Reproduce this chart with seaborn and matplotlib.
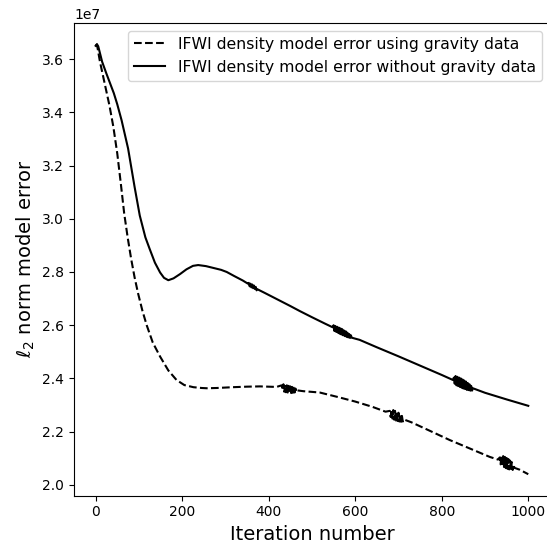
import matplotlib
matplotlib.use('Agg')
import matplotlib.pyplot as plt
import pandas as pd
import seaborn as sns

# values, errors in units of 1e7
with_grav_iter = [0, 3, 10, 22, 32, 41, 50, 58, 66, 74, 82, 90, 98, 108, 118, 132, 149, 168, 187,
                  205, 226, 245, 257, 280, 317, 350, 380, 418,
                  430, 432, 434, 436, 438, 440, 442, 444, 446, 448, 450, 452, 454, 456, 458, 460, 462, 464, 466,
                  480, 518, 560, 600, 640, 670,
                  680, 682, 684, 686, 688, 690, 692, 694, 696, 698, 700, 702, 704, 706, 708, 710, 712,
                  730, 770, 819, 860, 911, 930,
                  934, 936, 938, 940, 942, 944, 946, 948, 950, 952, 954, 956, 958, 960, 962, 964, 966, 968,
                  980, 1000]
with_grav_err = [3.650, 3.655, 3.590, 3.500, 3.425, 3.345, 3.245, 3.135, 3.020, 2.930, 2.850, 2.780, 2.720,
                 2.655, 2.600, 2.535, 2.482, 2.430, 2.394,
                 2.375, 2.367, 2.364, 2.363, 2.364, 2.367, 2.369, 2.370, 2.368,
                 2.374, 2.356, 2.378, 2.350, 2.376, 2.348, 2.374, 2.347, 2.372, 2.346, 2.370, 2.345, 2.368, 2.346,
                 2.365, 2.347, 2.362, 2.349, 2.355,
                 2.352, 2.347, 2.330, 2.313, 2.293, 2.275,
                 2.278, 2.255, 2.283, 2.249, 2.281, 2.245, 2.278, 2.242, 2.275, 2.240, 2.271, 2.238, 2.266, 2.237,
                 2.259, 2.238, 2.246,
                 2.235, 2.205, 2.168, 2.140, 2.105, 2.095,
                 2.103, 2.077, 2.111, 2.071, 2.108, 2.067, 2.105, 2.063, 2.101, 2.060, 2.097, 2.058, 2.091, 2.057,
                 2.085, 2.056, 2.076, 2.064,
                 2.057, 2.040]

no_grav_iter = [0, 3, 6, 15, 25, 35, 42, 50, 60, 75, 90, 102, 115, 125, 137, 149, 158, 168, 180, 195,
                210, 225, 237, 255, 275, 290, 303, 320, 340, 352,
                354, 356, 358, 360, 362, 364, 366, 368, 370, 372, 374,
                390, 420, 450, 472, 500, 530, 548,
                550, 552, 554, 556, 558, 560, 562, 564, 566, 568, 570, 572, 574, 576, 578, 580, 582, 584, 586, 588,
                590, 592,
                610, 650, 700, 750, 800, 826,
                828, 830, 832, 834, 836, 838, 840, 842, 844, 846, 848, 850, 852, 854, 856, 858, 860, 862, 864, 866,
                868, 870, 872,
                900, 950, 1000]
no_grav_err = [3.650, 3.656, 3.648, 3.590, 3.545, 3.502, 3.472, 3.430, 3.370, 3.264, 3.120, 3.012, 2.930, 2.886,
               2.835, 2.798, 2.778, 2.769, 2.776, 2.792,
               2.810, 2.823, 2.826, 2.822, 2.814, 2.808, 2.800, 2.785, 2.768, 2.756,
               2.759, 2.746, 2.756, 2.742, 2.753, 2.739, 2.749, 2.736, 2.744, 2.731, 2.735,
               2.722, 2.697, 2.672, 2.653, 2.630, 2.606, 2.592,
               2.600, 2.578, 2.597, 2.575, 2.594, 2.572, 2.591, 2.568, 2.588, 2.565, 2.585, 2.562, 2.580, 2.559,
               2.577, 2.556, 2.572, 2.554, 2.567, 2.552, 2.562, 2.553,
               2.545, 2.517, 2.483, 2.448, 2.413, 2.394,
               2.403, 2.380, 2.409, 2.374, 2.406, 2.371, 2.403, 2.368, 2.400, 2.365, 2.396, 2.362, 2.392, 2.360,
               2.388, 2.357, 2.383, 2.356, 2.378, 2.354, 2.372, 2.354, 2.363,
               2.346, 2.321, 2.297]

with_grav = pd.DataFrame({'iteration': with_grav_iter, 'error': [v * 1e7 for v in with_grav_err]})
no_grav = pd.DataFrame({'iteration': no_grav_iter, 'error': [v * 1e7 for v in no_grav_err]})

fig = plt.figure(figsize=(5.47, 5.43), dpi=100)
# right spine falls off the picture in the reference, so it is hidden here
ax = fig.add_axes([0.1353, 0.0871, 0.870, 0.8711])
ax.spines['right'].set_visible(False)

sns.lineplot(data=with_grav, x='iteration', y='error', color='black', linestyle='--',
             estimator=None, sort=False, label='IFWI density model error using gravity data', ax=ax)
sns.lineplot(data=no_grav, x='iteration', y='error', color='black', linestyle='-',
             estimator=None, sort=False, label='IFWI density model error without gravity data', ax=ax)

ax.set_xlabel('Iteration number', fontsize=14)
ax.set_ylabel(r'$\ell_2$ norm model error', fontsize=14)
ax.set_xticks([0, 200, 400, 600, 800, 1000])
ax.legend(loc='upper right', fontsize=11.3)

fig.savefig('out.png', dpi=100)
